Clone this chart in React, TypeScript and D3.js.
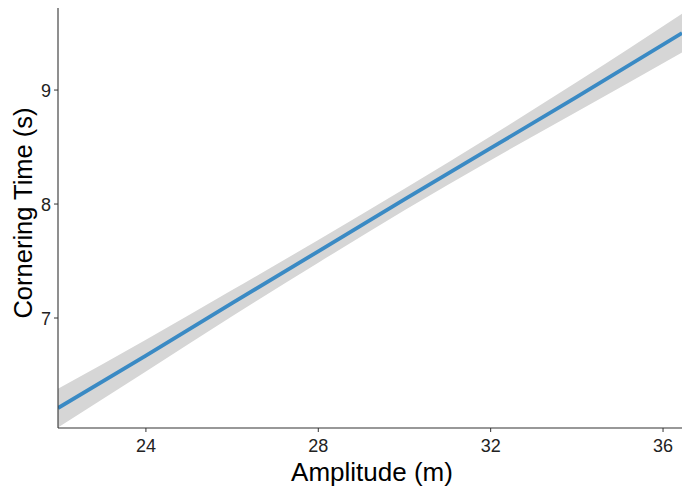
import React from "react";
import * as d3 from "d3";

const amplitude = [21.96, 24, 26, 28, 30, 32, 34, 36.44];
const fitTime = [6.21, 6.67, 7.13, 7.585, 8.04, 8.49, 8.94, 9.5];
const lowerTime = [6.04, 6.53, 7.015, 7.485, 7.945, 8.385, 8.81, 9.33];
const upperTime = [6.38, 6.81, 7.245, 7.685, 8.135, 8.595, 9.07, 9.67];
const xTicks = [24, 28, 32, 36];
const yTicks = [7, 8, 9];

const W = 682;
const H = 489;
const M = { left: 58, right: 0, top: 8, bottom: 61 };

export default function App() {
  const x = d3.scaleLinear().domain([21.96, 36.44]).range([M.left, W - M.right]);
  const y = d3.scaleLinear().domain([6.035, 9.72]).range([H - M.bottom, M.top]);
  const rows = amplitude.map((a, i) => ({ a, f: fitTime[i], lo: lowerTime[i], hi: upperTime[i] }));
  const area = d3
    .area<any>()
    .curve(d3.curveMonotoneX)
    .x((d) => x(d.a))
    .y0((d) => y(d.lo))
    .y1((d) => y(d.hi));
  const line = d3
    .line<any>()
    .x((d) => x(d.a))
    .y((d) => y(d.f));
  const font = "'Liberation Sans', Arial, sans-serif";
  const y0 = H - M.bottom;
  return (
    <svg
      width={W}
      height={H}
      style={{ position: "absolute", left: 0, top: 0, background: "#fff" }}
      fontFamily={font}
    >
      <defs>
        <clipPath id="panel">
          <rect x={M.left} y={M.top} width={W - M.left - M.right} height={y0 - M.top} />
        </clipPath>
      </defs>
      <g clipPath="url(#panel)">
        <path d={area(rows) || ""} fill="#d6d6d6" />
        <path d={line(rows) || ""} fill="none" stroke="#3A8AC4" strokeWidth={3.8} />
      </g>
      <line x1={M.left} x2={W} y1={y0} y2={y0} stroke="#333" strokeWidth={1.1} />
      <line x1={M.left} x2={M.left} y1={M.top} y2={y0} stroke="#333" strokeWidth={1.1} />
      {xTicks.map((t) => (
        <g key={t}>
          <line x1={x(t)} x2={x(t)} y1={y0} y2={y0 + 4} stroke="#333" />
          <text x={x(t)} y={452} textAnchor="middle" fontSize={18} fill="#222">
            {t}
          </text>
        </g>
      ))}
      {yTicks.map((t) => (
        <g key={t}>
          <line x1={M.left - 4} x2={M.left} y1={y(t)} y2={y(t)} stroke="#333" />
          <text x={M.left - 7} y={y(t) + 6.5} textAnchor="end" fontSize={18} fill="#222">
            {t}
          </text>
        </g>
      ))}
      <text x={(M.left + W) / 2 + 2} y={481} textAnchor="middle" fontSize={26} fill="#000">
        Amplitude (m)
      </text>
      <text
        transform={`translate(32, ${(M.top + y0) / 2 - 5}) rotate(-90)`}
        textAnchor="middle"
        fontSize={25.5}
        fill="#000"
      >
        Cornering Time (s)
      </text>
    </svg>
  );
}
